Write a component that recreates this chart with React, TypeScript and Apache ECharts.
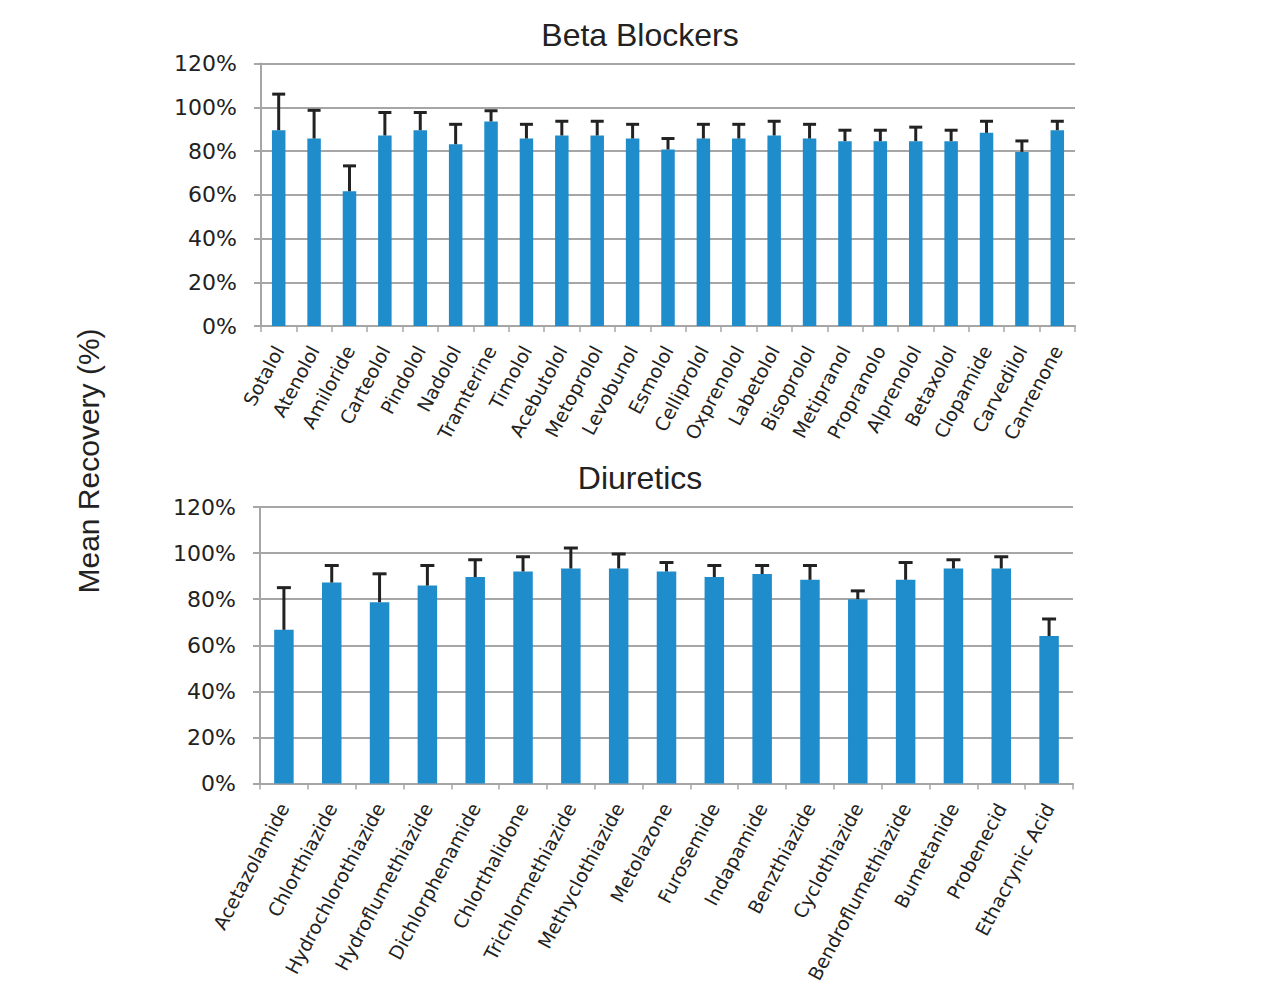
import React, { useEffect, useRef } from "react";
import * as echarts from "echarts";

const betaNames = [
  "Sotalol", "Atenolol", "Amiloride", "Carteolol", "Pindolol", "Nadolol", "Tramterine",
  "Timolol", "Acebutolol", "Metoprolol", "Levobunol", "Esmolol", "Celliprolol", "Oxprenolol",
  "Labetolol", "Bisoprolol", "Metipranol", "Propranolo", "Alprenolol", "Betaxolol",
  "Clopamide", "Carvedilol", "Canrenone",
];
const betaMeans = [89.5, 85.7, 61.6, 87.1, 89.5, 83.1, 93.5, 85.7, 87.1, 87.1, 85.7, 80.7, 85.7, 85.7, 87.1, 85.7, 84.5, 84.5, 84.5, 84.5, 88.3, 79.6, 89.5];
const betaErrors = [16.5, 12.9, 11.6, 10.5, 8.1, 9.1, 4.9, 6.5, 6.5, 6.5, 6.5, 5.0, 6.5, 6.5, 6.5, 6.5, 5.0, 5.0, 6.4, 5.0, 5.3, 5.0, 4.1];

const diurNames = [
  "Acetazolamide", "Chlorthiazide", "Hydrochlorothiazide", "Hydroflumethiazide",
  "Dichlorphenamide", "Chlorthalidone", "Trichlormethiazide", "Methyclothiazide",
  "Metolazone", "Furosemide", "Indapamide", "Benzthiazide", "Cyclothiazide",
  "Bendroflumethiazide", "Bumetanide", "Probenecid", "Ethacrynic Acid",
];
const diurMeans = [66.7, 87.2, 78.7, 85.9, 89.6, 92.0, 93.3, 93.3, 92.0, 89.6, 90.9, 88.4, 80.0, 88.4, 93.3, 93.3, 64.0];
const diurErrors = [18.3, 7.4, 12.3, 8.7, 7.5, 6.4, 8.9, 6.3, 3.9, 5.0, 3.7, 6.2, 3.6, 7.5, 3.8, 5.1, 7.4];

const yTicks = { min: 0, max: 120, interval: 20 };

const GRID_COLOR = "#a6a6a6";
const BAR_COLOR = "#1f8dcc";

function errRender(capW: number) {
  return (params: any, api: any) => {
    const i = api.value(0);
    const mean = api.value(1);
    const err = api.value(2);
    const base = api.coord([i, mean]);
    const top = api.coord([i, mean + err]);
    const style = { stroke: "#222", lineWidth: 3 };
    return {
      type: "group",
      children: [
        { type: "line", shape: { x1: base[0], y1: base[1], x2: top[0], y2: top[1] }, style },
        { type: "line", shape: { x1: top[0] - capW / 2, y1: top[1], x2: top[0] + capW / 2, y2: top[1] }, style },
      ],
    };
  };
}

function xAxis(gridIndex: number, names: string[]) {
  return {
    type: "category",
    gridIndex,
    data: names,
    axisLine: { show: true, lineStyle: { color: GRID_COLOR, width: 2 } },
    axisTick: { show: true, length: 6, lineStyle: { color: GRID_COLOR, width: 1.5 } },
    axisLabel: {
      interval: 0,
      rotate: 62,
      fontSize: 19,
      fontFamily: "DejaVu Sans",
      color: "#222",
      margin: 21,
    },
  };
}

function yAxis(gridIndex: number) {
  return {
    type: "value",
    gridIndex,
    min: yTicks.min,
    max: yTicks.max,
    interval: yTicks.interval,
    axisLine: { show: true, lineStyle: { color: GRID_COLOR, width: 2 } },
    axisTick: { show: true, length: 7, lineStyle: { color: GRID_COLOR, width: 2 } },
    axisLabel: {
      formatter: "{value}%",
      fontSize: 22,
      fontFamily: "DejaVu Sans",
      color: "#222",
      margin: 24,
    },
    splitLine: { show: true, lineStyle: { color: GRID_COLOR, width: 2 } },
  };
}

export default function App() {
  const ref = useRef<HTMLDivElement>(null);
  useEffect(() => {
    const chart = echarts.init(ref.current!, null, { renderer: "svg" });
    const option = {
      animation: false,
      backgroundColor: "#fff",
      title: [
        {
          text: "Beta Blockers",
          left: "center",
          top: 14,
          textStyle: { fontSize: 32, fontWeight: "normal", fontFamily: "Liberation Sans", color: "#222" },
        },
        {
          text: "Diuretics",
          left: "center",
          top: 457,
          textStyle: { fontSize: 32, fontWeight: "normal", fontFamily: "Liberation Sans", color: "#222" },
        },
      ],
      graphic: [
        {
          type: "text",
          x: 88,
          y: 461,
          rotation: Math.PI / 2,
          style: {
            text: "Mean Recovery (%)",
            fontSize: 30,
            fontFamily: "Liberation Sans",
            fill: "#222",
            textAlign: "center",
            textVerticalAlign: "middle",
          },
        },
      ],
      grid: [
        { left: 261, right: 205, top: 63.5, height: 262.5 },
        { left: 260, right: 207, top: 507, height: 276.5 },
      ],
      xAxis: [xAxis(0, betaNames), xAxis(1, diurNames)],
      yAxis: [yAxis(0), yAxis(1)],
      series: [
        {
          type: "bar",
          xAxisIndex: 0,
          yAxisIndex: 0,
          data: betaMeans,
          barWidth: 13.5,
          itemStyle: { color: BAR_COLOR },
        },
        {
          type: "custom",
          xAxisIndex: 0,
          yAxisIndex: 0,
          renderItem: errRender(13),
          data: betaMeans.map((m, i) => [i, m, betaErrors[i]]),
          z: 3,
        },
        {
          type: "bar",
          xAxisIndex: 1,
          yAxisIndex: 1,
          data: diurMeans,
          barWidth: 19.5,
          itemStyle: { color: BAR_COLOR },
        },
        {
          type: "custom",
          xAxisIndex: 1,
          yAxisIndex: 1,
          renderItem: errRender(14),
          data: diurMeans.map((m, i) => [i, m, diurErrors[i]]),
          z: 3,
        },
      ],
    };
    chart.setOption(option as any);
    return () => chart.dispose();
  }, []);
  return (
    <div
      ref={ref}
      style={{ position: "absolute", left: 0, top: 0, width: 1280, height: 995, background: "#fff" }}
    />
  );
}
